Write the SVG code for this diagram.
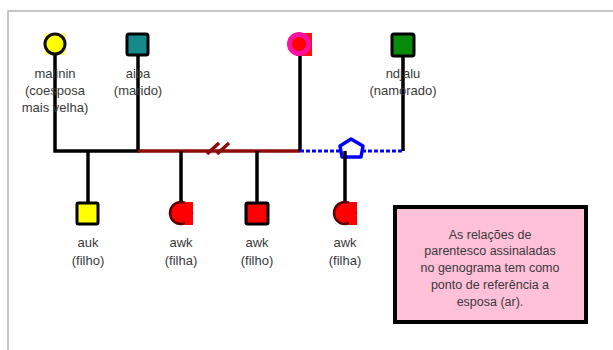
<svg xmlns="http://www.w3.org/2000/svg" width="613" height="350" viewBox="0 0 613 350">
  <style>
    .lbl { font-family: "Liberation Sans", Arial, sans-serif; font-size: 13px; fill: #3a3a3a; text-anchor: middle; }
    .note { font-family: "Liberation Sans", Arial, sans-serif; font-size: 12.5px; fill: #3a3a3a; text-anchor: middle; }
    .line { stroke: #000; stroke-width: 3.5; fill: none; }
    .sq { stroke: #000; stroke-width: 3; }
  </style>

  <!-- frame edges -->
  <path d="M8 350 V11 H613" fill="none" stroke="#b4b4b4" stroke-width="1.5"/>

  <g id="connectors">
    <!-- first marriage -->
    <path class="line" d="M55 52 V151 H138 V56"/>
    <!-- second (separated) union -->
    <path d="M138 151 H300" stroke="#8e0a0a" stroke-width="3.5" fill="none"/>
    <path d="M207 154 L219 143 M217 154 L229 143" stroke="#8e0a0a" stroke-width="3.5" fill="none"/>
    <path class="line" d="M300 56 V151"/>
    <!-- courtship -->
    <path d="M300 151 H340 M362 151 H403" stroke="#0000ff" stroke-width="3" stroke-dasharray="4 2" fill="none"/>
    <path d="M351 139 L363 146 L361 157 L342 157 L340 146 Z" fill="#fff" stroke="#0000ff" stroke-width="3.5" stroke-linejoin="round"/>
    <path class="line" d="M403 56 V151"/>
    <!-- children -->
    <path class="line" d="M88 151 V203"/>
    <path class="line" d="M181 151 V203"/>
    <path class="line" d="M257 151 V203"/>
    <path class="line" d="M345 151 V203"/>
  </g>

  <g id="malinin">
    <rect x="44" y="33" width="22" height="22" fill="#ffff90"/>
    <circle cx="55" cy="44" r="10" fill="#ffff00" stroke="#111" stroke-width="3"/>
    <text class="lbl" x="55" y="78">malinin</text>
    <text class="lbl" x="55" y="95">(coesposa</text>
    <text class="lbl" x="55" y="112">mais velha)</text>
  </g>

  <g id="aiba">
    <rect class="sq" x="127" y="34" width="21" height="21" rx="2" fill="#168a8a"/>
    <text class="lbl" x="138" y="78">aiba</text>
    <text class="lbl" x="138" y="95">(marido)</text>
  </g>

  <g id="esposa">
    <rect x="296" y="33" width="16" height="23" fill="#ff1010"/>
    <circle cx="299" cy="44" r="12" fill="#ff10a0"/>
    <circle cx="299" cy="44" r="7" fill="#ff0000"/>
  </g>

  <g id="ndjalu">
    <rect class="sq" x="392" y="34" width="22" height="22" rx="2" fill="#0a8a0a"/>
    <text class="lbl" x="403" y="78">ndjalu</text>
    <text class="lbl" x="403" y="95">(namorado)</text>
  </g>

  <g id="auk">
    <rect class="sq" x="77" y="203" width="21" height="21" rx="1.5" fill="#ffff00"/>
    <text class="lbl" x="88" y="247">auk</text>
    <text class="lbl" x="88" y="265">(filho)</text>
  </g>

  <g id="awk-filha-1">
    <circle cx="181" cy="213" r="11" fill="#ff0000" stroke="#5a0000" stroke-width="2.5"/>
    <rect x="185" y="202" width="8" height="23" fill="#ff0000"/>
    <text class="lbl" x="181" y="247">awk</text>
    <text class="lbl" x="181" y="265">(filha)</text>
  </g>

  <g id="awk-filho">
    <rect class="sq" x="246" y="203" width="22" height="21" rx="1.5" fill="#ff0000"/>
    <text class="lbl" x="257" y="247">awk</text>
    <text class="lbl" x="257" y="265">(filho)</text>
  </g>

  <g id="awk-filha-2">
    <circle cx="345" cy="213" r="11" fill="#ff0000" stroke="#5a0000" stroke-width="2.5"/>
    <rect x="349" y="202" width="8" height="23" fill="#ff0000"/>
    <text class="lbl" x="345" y="247">awk</text>
    <text class="lbl" x="345" y="265">(filha)</text>
  </g>

  <g id="nota">
    <rect x="395" y="207" width="191" height="115" fill="#ffc0d8" stroke="#000" stroke-width="4"/>
    <text class="note" x="490" y="239">As relações de</text>
    <text class="note" x="490" y="255">parentesco assinaladas</text>
    <text class="note" x="490" y="272">no genograma tem como</text>
    <text class="note" x="490" y="289">ponto de referência a</text>
    <text class="note" x="490" y="306">esposa (ar).</text>
  </g>
</svg>
